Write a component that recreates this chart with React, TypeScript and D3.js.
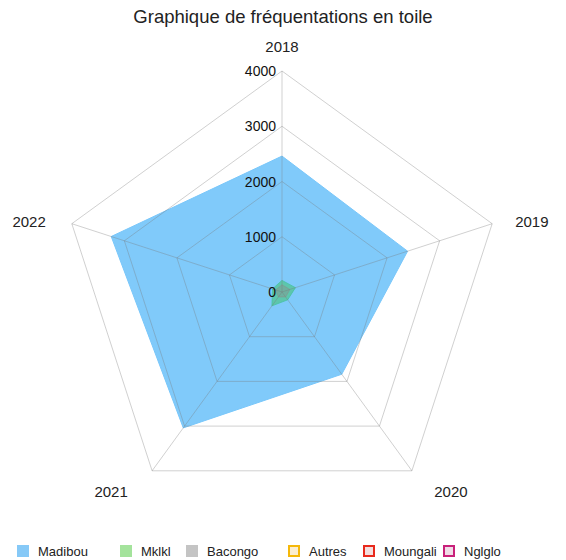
import * as d3 from 'd3';
import React, { useEffect, useRef } from 'react';

const years = ['2018', '2019', '2020', '2021', '2022'];
const ticks = [0, 1000, 2000, 3000, 4000];

const madibou = [2460, 2390, 1840, 3040, 3250];
const mklkl = [210, 255, 175, 310, 180];
const bacongo = [130, 150, 110, 110, 120];
const autres = [0, 0, 0, 0, 0];
const moungali = [0, 0, 0, 0, 0];
const nglglo = [0, 0, 0, 0, 0];

const seriesNames = ['Madibou', 'Mklkl', 'Bacongo', 'Autres', 'Moungali', 'Nglglo'];
const seriesValues = [madibou, mklkl, bacongo, autres, moungali, nglglo];

const App = () => {
  const ref = useRef<SVGSVGElement>(null);

  useEffect(() => {
    const svg = d3.select(ref.current);
    svg.selectAll('*').remove();

    const width = 566, height = 560;
    const cx = 282, cy = 292, radius = 221;
    const font = '"Liberation Sans", Arial, Helvetica, sans-serif';

    // series styles
    const fills = [
      'rgba(121, 199, 250, 0.95)',
      'rgba(70, 195, 120, 0.6)',
      'rgba(140, 140, 140, 0.4)',
      'rgba(255, 190, 30, 0.15)',
      'rgba(235, 40, 30, 0.15)',
      'rgba(200, 30, 120, 0.15)'
    ];
    const strokes = [
      'rgba(121, 199, 250, 1)',
      'rgba(70, 195, 160, 0.8)',
      'rgba(140, 140, 140, 0.5)',
      '#f5b80a',
      '#e8291c',
      '#c8207a'
    ];
    const legendFills = ['#86c9f7', '#a4e39c', '#c4c4c4', '#fbeed0', '#f3dede', '#f0dbe6'];

    svg.attr('width', width).attr('height', height);

    svg.append('text')
      .attr('x', 283)
      .attr('y', 23)
      .attr('text-anchor', 'middle')
      .attr('font-family', font)
      .attr('font-size', 18.5)
      .attr('fill', '#222')
      .text('Graphique de fréquentations en toile');

    const r = d3.scaleLinear().domain([0, 4000]).range([0, radius]);
    const angle = d3.scalePoint<string>()
      .domain(years)
      .range([0, (2 * Math.PI * (years.length - 1)) / years.length]);

    const pt = (year: string, v: number): [number, number] => {
      const a = angle(year)! - Math.PI / 2;
      return [cx + r(v) * Math.cos(a), cy + r(v) * Math.sin(a)];
    };

    const g = svg.append('g');

    // series polygons
    seriesValues.forEach((vals, i) => {
      const pts = years.map((y, k) => pt(y, vals[k]));
      g.append('path')
        .attr('d', d3.line()(pts) + 'Z')
        .attr('fill', fills[i])
        .attr('stroke', strokes[i])
        .attr('stroke-width', 1);
    });

    // grid
    ticks.slice(1).forEach(t => {
      const pts = years.map(y => pt(y, t));
      g.append('path')
        .attr('d', d3.line()(pts) + 'Z')
        .attr('fill', 'none')
        .attr('stroke', 'rgba(120,120,120,0.35)')
        .attr('stroke-width', 1);
    });
    years.forEach(y => {
      const [x2, y2] = pt(y, 4000);
      g.append('line')
        .attr('x1', cx).attr('y1', cy)
        .attr('x2', x2).attr('y2', y2)
        .attr('stroke', 'rgba(120,120,120,0.35)')
        .attr('stroke-width', 1);
    });

    // tick labels
    ticks.forEach(t => {
      g.append('text')
        .attr('x', cx - 6)
        .attr('y', cy - r(t))
        .attr('dy', '0.36em')
        .attr('text-anchor', 'end')
        .attr('font-family', font)
        .attr('font-size', 14)
        .attr('fill', '#111')
        .text(t);
    });

    // year labels, placed off each spoke's tip
    const labelOffsets: [number, number, string][] = [
      [0, -24, 'middle'],
      [23, -2, 'start'],
      [39, 21, 'middle'],
      [-41, 21, 'middle'],
      [-26, -2, 'end']
    ];
    years.forEach((y, i) => {
      const [vx, vy] = pt(y, 4000);
      const [ox, oy, anchor] = labelOffsets[i];
      g.append('text')
        .attr('x', vx + ox)
        .attr('y', vy + oy)
        .attr('dy', '0.36em')
        .attr('text-anchor', anchor)
        .attr('font-family', font)
        .attr('font-size', 15)
        .attr('fill', '#222')
        .text(y);
    });

    // legend
    const legendX = [17, 120, 186, 288, 363, 443];
    const leg = svg.append('g').attr('transform', 'translate(0,545)');
    seriesNames.forEach((name, i) => {
      leg.append('rect')
        .attr('x', legendX[i] + (i < 3 ? 0 : 1))
        .attr('y', i < 3 ? 0 : 1)
        .attr('width', i < 3 ? 12 : 10)
        .attr('height', i < 3 ? 12 : 10)
        .attr('fill', legendFills[i])
        .attr('stroke', i < 3 ? 'none' : strokes[i])
        .attr('stroke-width', 2);
      leg.append('text')
        .attr('x', legendX[i] + 21)
        .attr('y', 6)
        .attr('dy', '0.36em')
        .attr('font-family', font)
        .attr('font-size', 13)
        .attr('fill', '#222')
        .text(name);
    });
  }, []);

  return (
    <svg ref={ref} style={{ position: 'absolute', left: 0, top: 0, background: '#fff' }}></svg>
  );
};

export default App;
